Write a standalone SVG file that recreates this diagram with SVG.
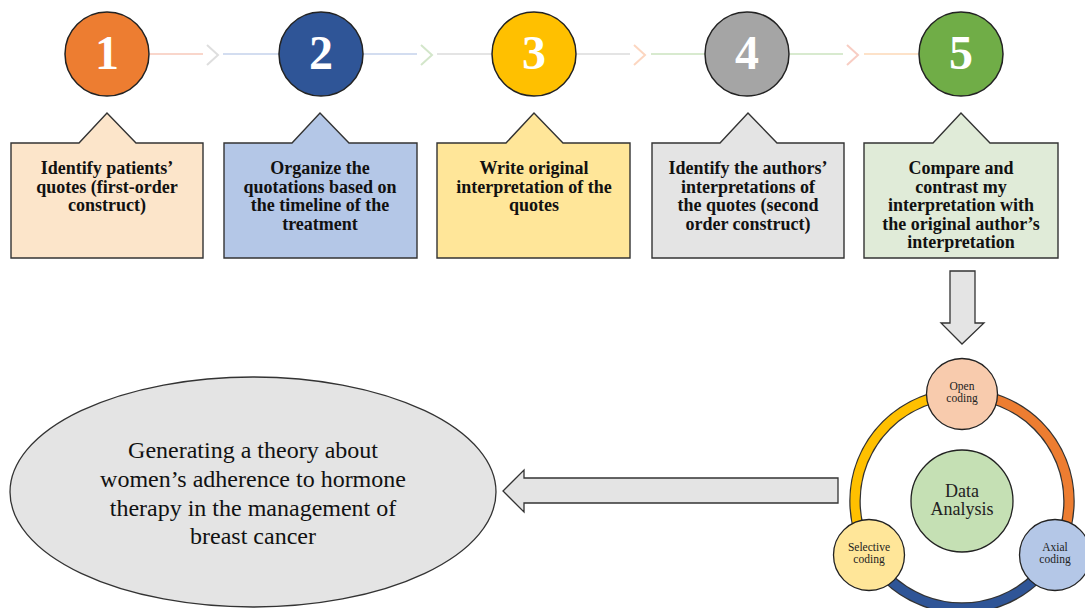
<svg xmlns="http://www.w3.org/2000/svg" width="1085" height="608" viewBox="0 0 1085 608">
<style>
.num{font-family:"Liberation Serif","Times New Roman",serif;font-weight:bold;font-size:48px;fill:#fff;text-anchor:middle}
.step{stroke:#222;stroke-width:1.5}
.box{stroke:#333;stroke-width:1.4}
.bt{font-family:"Liberation Serif","Times New Roman",serif;font-weight:bold;font-size:18px;fill:#111;text-anchor:middle}
.ln{stroke-width:2;fill:none}
.chev{stroke-width:2;fill:none}
.arr{fill:#e4e4e4;stroke:#333;stroke-width:1.3}
.cc{stroke:#222;stroke-width:1.3}
.st{font-family:"Liberation Serif","Times New Roman",serif;font-size:11.5px;fill:#222;text-anchor:middle}
.da{font-family:"Liberation Serif","Times New Roman",serif;font-size:18px;fill:#222;text-anchor:middle}
.et{font-family:"Liberation Serif","Times New Roman",serif;font-size:24px;fill:#111;text-anchor:middle}
</style>
<rect width="1085" height="608" fill="#fff"/>
<g id="connectors">
  <line class="ln" x1="150" y1="54" x2="203" y2="54" stroke="#f9d6cb"/>
  <polyline class="chev" points="207,45 218,55 207,65" stroke="#dedede"/>
  <line class="ln" x1="223" y1="54" x2="279" y2="54" stroke="#d3ddf0"/>
  <line class="ln" x1="363" y1="54" x2="417" y2="54" stroke="#d3ddf0"/>
  <polyline class="chev" points="421,45 432,55 421,65" stroke="#d3e6ca"/>
  <line class="ln" x1="437" y1="54" x2="491" y2="54" stroke="#e4e4e4"/>
  <line class="ln" x1="577" y1="54" x2="630" y2="54" stroke="#e4e4e4"/>
  <polyline class="chev" points="634,45 645,55 634,65" stroke="#fcd6c0"/>
  <line class="ln" x1="651" y1="54" x2="705" y2="54" stroke="#d8eacf"/>
  <line class="ln" x1="790" y1="54" x2="843" y2="54" stroke="#d8eacf"/>
  <polyline class="chev" points="847,45 858,55 847,65" stroke="#f8cdc3"/>
  <line class="ln" x1="864" y1="54" x2="918" y2="54" stroke="#fde2c9"/>
  <polygon id="down-arrow" class="arr" points="950,271 975,271 975,323 984,323 962,344 941,323 950,323"/>
  <polygon id="left-arrow" class="arr" points="838,478 838,503 524,503 524,512 503,491 524,470 524,478"/>
</g>
<g id="step1">
  <circle class="step" cx="107" cy="54" r="42" fill="#ed7d31"/>
  <text class="num" x="107" y="69">1</text>
  <path class="box" d="M11,143 H79 L107,113 L136,143 H203 V258 H11 Z" fill="#fce5ca"/>
  <text class="bt" x="107" y="174">Identify patients’</text>
  <text class="bt" x="107" y="192.5">quotes (first-order</text>
  <text class="bt" x="107" y="211">construct)</text>
</g>
<g id="step2">
  <circle class="step" cx="321" cy="54" r="42" fill="#2f5597"/>
  <text class="num" x="321" y="69">2</text>
  <path class="box" d="M224,143 H292 L320,113 L349,143 H417 V258 H224 Z" fill="#b4c7e7"/>
  <text class="bt" x="320" y="174">Organize the</text>
  <text class="bt" x="320" y="192.5">quotations based on</text>
  <text class="bt" x="320" y="211">the timeline of the</text>
  <text class="bt" x="320" y="229.5">treatment</text>
</g>
<g id="step3">
  <circle class="step" cx="534" cy="54" r="42" fill="#ffc000"/>
  <text class="num" x="534" y="69">3</text>
  <path class="box" d="M437,143 H506 L534,113 L563,143 H630 V258 H437 Z" fill="#ffe699"/>
  <text class="bt" x="534" y="174">Write original</text>
  <text class="bt" x="534" y="192.5">interpretation of the</text>
  <text class="bt" x="534" y="211">quotes</text>
</g>
<g id="step4">
  <circle class="step" cx="747" cy="54" r="42" fill="#a5a5a5"/>
  <text class="num" x="747" y="69">4</text>
  <path class="box" d="M652,143 H720 L748,113 L777,143 H844 V258 H652 Z" fill="#e4e4e4"/>
  <text class="bt" x="748" y="174">Identify the authors’</text>
  <text class="bt" x="748" y="192.5">interpretations of</text>
  <text class="bt" x="748" y="211">the quotes (second</text>
  <text class="bt" x="748" y="229.5">order construct)</text>
</g>
<g id="step5">
  <circle class="step" cx="961" cy="54" r="42" fill="#70ad47"/>
  <text class="num" x="961" y="69">5</text>
  <path class="box" d="M864,143 H933 L961,113 L990,143 H1058 V258 H864 Z" fill="#e0ebd8"/>
  <text class="bt" x="961" y="174">Compare and</text>
  <text class="bt" x="961" y="192.5">contrast my</text>
  <text class="bt" x="961" y="211">interpretation with</text>
  <text class="bt" x="961" y="229.5">the original author’s</text>
  <text class="bt" x="961" y="248">interpretation</text>
</g>
<g id="cycle">
  <circle cx="962" cy="501" r="107" fill="none" stroke="#333" stroke-width="11.5"/>
  <path d="M962,394 A107,107 0 0 1 1054.7,554.5" fill="none" stroke="#ed7d31" stroke-width="9"/>
  <path d="M1054.7,554.5 A107,107 0 0 1 869.3,554.5" fill="none" stroke="#2f5597" stroke-width="9"/>
  <path d="M869.3,554.5 A107,107 0 0 1 962,394" fill="none" stroke="#ffc000" stroke-width="9"/>
</g>
<g id="data-analysis">
  <circle class="cc" cx="962" cy="501" r="51" fill="#c5e0b4"/>
  <text class="da" x="962" y="497">Data</text>
  <text class="da" x="962" y="515">Analysis</text>
</g>
<g id="open-coding">
  <circle class="cc" cx="962" cy="394" r="35.5" fill="#f8cbad"/>
  <text class="st" x="962" y="390">Open</text>
  <text class="st" x="962" y="402">coding</text>
</g>
<g id="axial-coding">
  <circle class="cc" cx="1055" cy="555" r="35.5" fill="#b4c7e7"/>
  <text class="st" x="1055" y="551">Axial</text>
  <text class="st" x="1055" y="563">coding</text>
</g>
<g id="selective-coding">
  <circle class="cc" cx="869" cy="555" r="35.5" fill="#ffe699"/>
  <text class="st" x="869" y="551">Selective</text>
  <text class="st" x="869" y="563">coding</text>
</g>
<g id="theory">
  <ellipse cx="253" cy="492" rx="243" ry="115" fill="#e4e4e4" stroke="#333" stroke-width="1.3"/>
  <text class="et" x="253" y="458">Generating a theory about</text>
  <text class="et" x="253" y="487">women’s adherence to hormone</text>
  <text class="et" x="253" y="516">therapy in the management of</text>
  <text class="et" x="253" y="544">breast cancer</text>
</g>
</svg>
